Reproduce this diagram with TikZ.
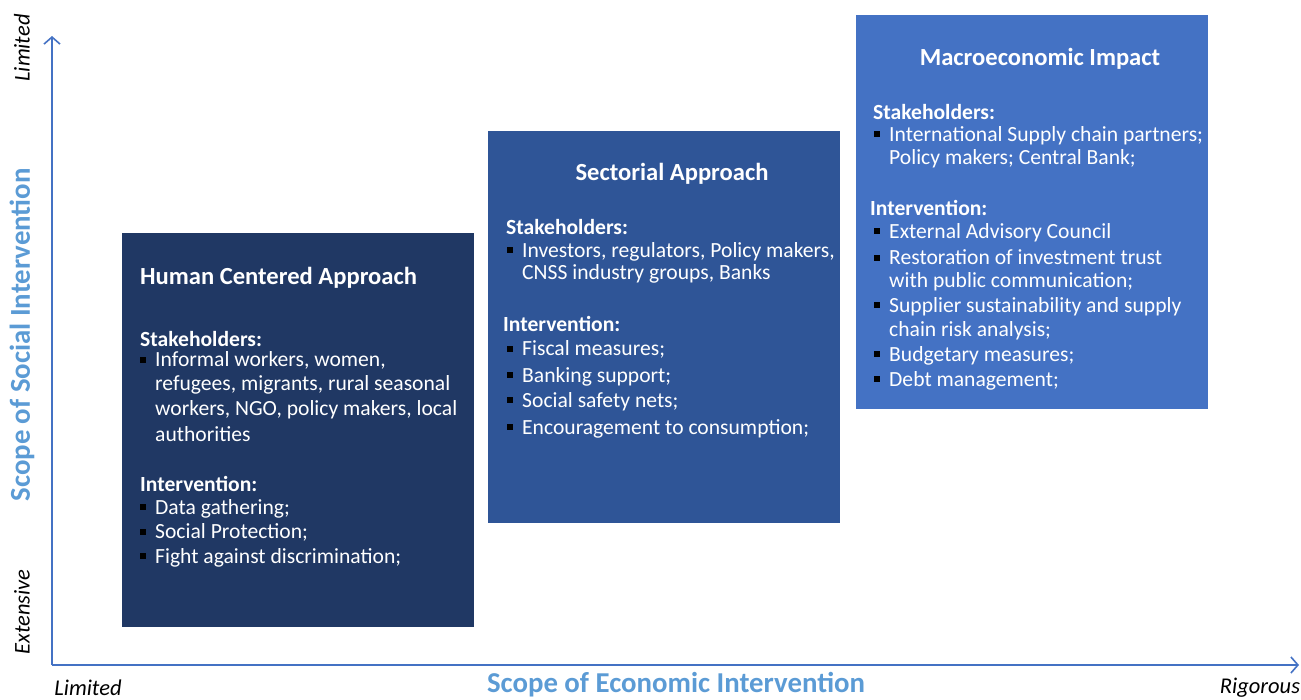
\documentclass[tikz,border=0pt]{standalone}
\usepackage{fontspec}
\setmainfont{Carlito}
\usetikzlibrary{arrows.meta}
\definecolor{boxA}{HTML}{203864}
\definecolor{boxB}{HTML}{2F5597}
\definecolor{boxC}{HTML}{4472C4}
\definecolor{axisc}{HTML}{4472C4}
\definecolor{labc}{HTML}{5B9BD5}
\newcommand{\bl}{\llap{\raisebox{4pt}{\color{black}\rule{6pt}{6pt}}\hspace{9pt}}}
\tikzset{
  panel/.style={fill=#1, draw=none, inner sep=0, anchor=north west},
  ttl/.style={text=white, font=\fontsize{24.6}{29}\selectfont\bfseries, inner sep=0, yshift=-1.5pt},
  hd/.style={text=white, font=\fontsize{21.6}{25}\selectfont\bfseries, inner sep=0, anchor=west, yshift=-1.5pt},
  itm/.style={text=white, font=\fontsize{21.6}{25}\selectfont, inner sep=0, anchor=west, yshift=-1.5pt},
  ends/.style={font=\fontsize{22.5}{27}\selectfont\itshape, inner sep=0},
  axlab/.style={text=labc, font=\fontsize{28.8}{34}\selectfont\bfseries, inner sep=0},
  axis/.style={draw=axisc, line width=2pt, -{Straight Barb[length=7pt,width=16pt,line width=1.6pt]}}
}
\begin{document}
\begin{tikzpicture}[x=1pt,y=-1pt]
\useasboundingbox (0,0) rectangle (1301,699);
% panels
\node[panel=boxA, minimum width=352pt, minimum height=394pt] (hc) at (122,233) {};
\node[panel=boxB, minimum width=352pt, minimum height=392pt] (sa) at (488,131) {};
\node[panel=boxC, minimum width=352pt, minimum height=394pt] (mi) at (856,15) {};
% Human Centered
\node[ttl, anchor=west] (hct) at (140,276) {Human Centered Approach};
\node[hd] (hcs) at (140,337) {Stakeholders:};
\node[itm] (hc1) at (155,359) {\bl Informal workers, women,};
\node[itm] (hc2) at (155,383) {refugees, migrants, rural seasonal};
\node[itm] (hc3) at (155,408) {workers, NGO, policy makers, local};
\node[itm] (hc4) at (155,433) {authorities};
\node[hd] (hci) at (140,482) {Intervention:};
\node[itm] (hc5) at (155,507) {\bl Data gathering;};
\node[itm] (hc6) at (155,531) {\bl Social Protection;};
\node[itm] (hc7) at (155,556) {\bl Fight against discrimination;};
% Sectorial
\node[ttl] (sat) at (672,172) {Sectorial Approach};
\node[hd] (sas) at (506,225) {Stakeholders:};
\node[itm] (sa1) at (522,250) {\bl Investors, regulators, Policy makers,};
\node[itm] (sa2) at (522,272) {CNSS industry groups, Banks};
\node[hd] (sai) at (503,322) {Intervention:};
\node[itm] (sa3) at (522,348) {\bl Fiscal measures;};
\node[itm] (sa4) at (522,375) {\bl Banking support;};
\node[itm] (sa5) at (522,400) {\bl Social safety nets;};
\node[itm] (sa6) at (522,427) {\bl Encouragement to consumption;};
% Macroeconomic
\node[ttl] (mit) at (1040,57) {Macroeconomic Impact};
\node[hd] (mis) at (873,110) {Stakeholders:};
\node[itm] (mi1) at (889,134) {\bl International Supply chain partners;};
\node[itm] (mi2) at (889,157) {Policy makers; Central Bank;};
\node[hd] (mii) at (870,206) {Intervention:};
\node[itm] (mi3) at (889,231) {\bl External Advisory Council};
\node[itm] (mi4) at (889,256) {\bl Restoration of investment trust};
\node[itm] (mi5) at (889,280) {with public communication;};
\node[itm] (mi6) at (889,305) {\bl Supplier sustainability and supply};
\node[itm] (mi7) at (889,329) {chain risk analysis;};
\node[itm] (mi8) at (889,354) {\bl Budgetary measures;};
\node[itm] (mi9) at (889,379) {\bl Debt management;};
% axes
\coordinate (O) at (52,665);
\coordinate (ytip) at (52,36);
\coordinate (xtip) at (1299,665);
\draw[axis] (O) -- (ytip);
\draw[axis] (O) -- (xtip);
% axis labels
\node[ends, rotate=90] (yl) at (22,48) {Limited};
\node[ends, rotate=90] (ye) at (22,612) {Extensive};
\node[axlab, rotate=90] (ya) at (22,335) {Scope of Social Intervention};
\node[ends] (xl) at (88,688) {Limited};
\node[ends] (xr) at (1260,688) {Rigorous};
\node[axlab] (xa) at (676,685) {Scope of Economic Intervention};
\end{tikzpicture}
\end{document}
